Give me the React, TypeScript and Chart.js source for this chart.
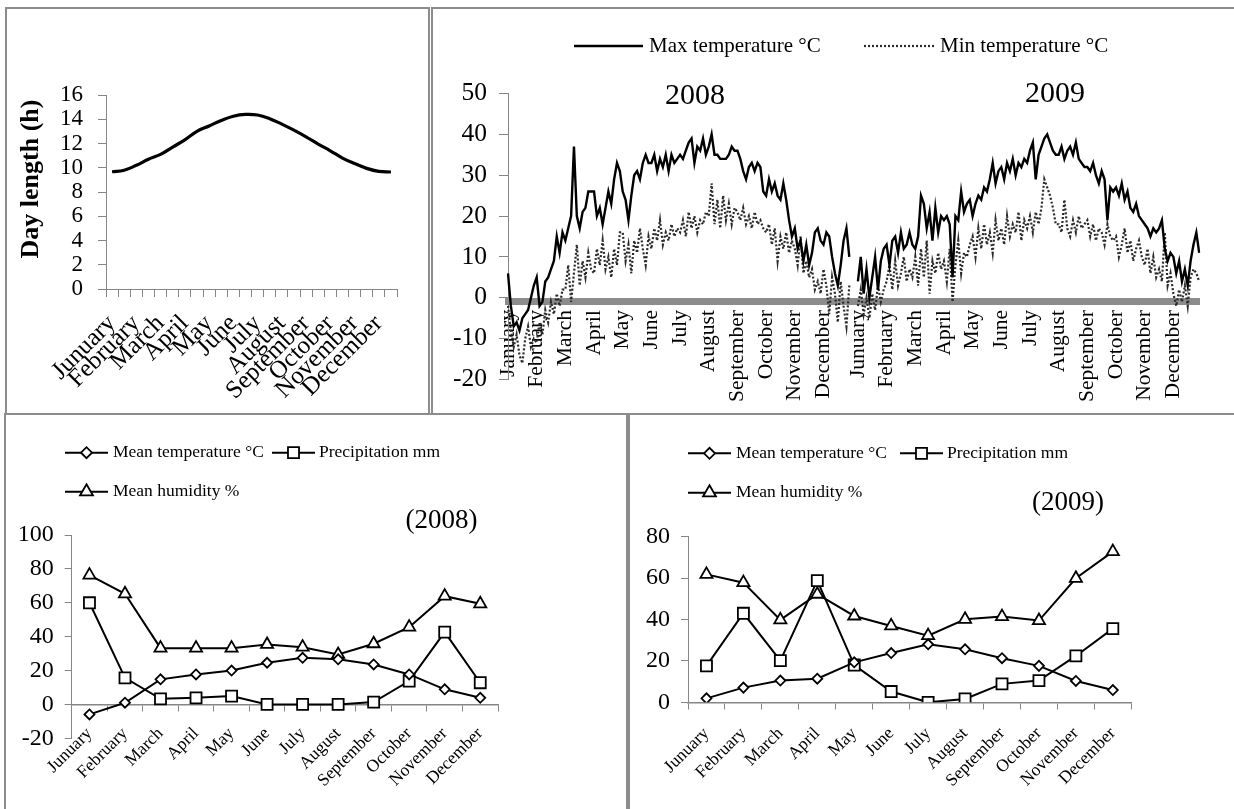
import React, { useEffect, useRef } from 'react';
import { Chart, registerables } from 'chart.js';

Chart.register(...registerables);

const SERIF = '"Liberation Serif", "Times New Roman", Times, serif';
const FRAME = '#8c8c8c';
const AXIS = '#868686';

// ---------------- data ----------------
const monthNames = ['Junuary', 'February', 'March', 'April', 'May', 'June', 'July', 'August', 'September', 'October', 'November', 'December'];

// day length, two readings per month (h)
const dayLengthH = [9.67, 9.8, 10.2, 10.7, 11.1, 11.7, 12.3, 13.0, 13.45, 13.9, 14.25, 14.4, 14.35, 14.05, 13.6, 13.1, 12.55, 11.95, 11.4, 10.8, 10.35, 9.95, 9.7, 9.65];

// daily temperatures, ten readings per month (deg C)
const samplesPerMonth = 10;
const yearGap = 2;
const maxTemp2008 = [
  6, -2, -7, -6, -8, -5, -4, -3, 0, 3,
  5, -2, -1, 4, 5, 7, 9, 15, 11, 16,
  14, 17, 20, 37, 20, 17, 21, 22, 26, 26,
  26, 20, 22, 18, 22, 26, 23, 29, 33, 31,
  26, 24, 19, 25, 30, 31, 29, 33, 35, 33,
  33, 35, 31, 34, 32, 35, 31, 35, 33, 34,
  35, 34, 36, 38, 39, 33, 37, 36, 39, 35,
  37, 40, 35, 35, 34, 34, 34, 35, 37, 36,
  36, 34, 31, 29, 32, 33, 31, 33, 32, 26,
  25, 29, 26, 28, 25, 24, 28, 24, 19, 15,
  17, 12, 14, 9, 13, 8, 11, 16, 17, 14,
  13, 16, 15, 10, 6, 3, 8, 14, 17, 10,
];
const minTemp2008 = [
  -2, -8, -12, -9, -14, -16, -10, -7, -12, -10,
  -11, -6, -9, -3, -6, -1, -4, 1, -2, 2,
  2, 8, -1, 6, 13, 3, 9, 5, 11, 7,
  6, 12, 8, 14, 7, 10, 5, 12, 8, 16,
  16, 9, 13, 6, 14, 11, 17, 12, 8, 15,
  12, 17, 14, 19, 13, 16, 14, 18, 15, 17,
  16, 19, 15, 21, 17, 20, 16, 19, 18, 21,
  20, 28, 18, 24, 17, 25, 19, 23, 18, 22,
  21, 19, 22, 18, 20, 17, 21, 18, 19, 17,
  16, 18, 13, 17, 9, 15, 12, 16, 11, 14,
  12, 8, 15, 6, 9, 5, 7, 2, 4, 1,
  7, 3, -4, 5, 1, -6, 4, -2, -7, 3,
];
const maxTemp2009 = [
  4, 10, 1, 7, 0, 5, 10, 2, 9, 12,
  13, 8, 14, 15, 11, 16, 12, 13, 16, 13,
  12, 15, 25, 23, 17, 21, 14, 22, 16, 20,
  19, 20, 18, 5, 20, 19, 26, 21, 23, 24,
  20, 23, 25, 24, 27, 26, 29, 33, 28, 31,
  32, 29, 33, 31, 34, 30, 33, 32, 34, 33,
  36, 38, 29, 35, 37, 39, 40, 38, 36, 35,
  35, 37, 34, 36, 37, 35, 38, 34, 33, 32,
  32, 31, 33, 30, 28, 31, 29, 19, 27, 26,
  27, 25, 28, 24, 26, 22, 21, 23, 20, 19,
  18, 17, 15, 17, 16, 17, 19, 12, 9, 11,
  10, 6, 9, 4, 7, 3, 9, 13, 16, 11,
];
const minTemp2009 = [
  -2, 2, -4, 0, -5, 1, -3, 3, -1, 2,
  4, 8, 2, 9, 3, 6, 10, 4, 7, 5,
  10, 3, 12, 5, 14, 1, 9, 6, 11, 7,
  9, 4, 12, -1, 8, 14, 6, 11, 10, 13,
  15, 10, 17, 12, 18, 13, 16, 11, 19, 14,
  17, 13, 20, 15, 18, 16, 21, 14, 19, 17,
  20, 16, 21, 18, 22, 29, 27, 25, 22, 18,
  18, 16, 24, 17, 15, 19, 16, 20, 17, 18,
  19, 15, 18, 14, 17, 16, 13, 18, 15, 14,
  15, 10, 13, 17, 11, 14, 9, 12, 14, 10,
  8, 12, 6, 10, 5, 7, 4, 16, 3, 6,
  1, -2, 2, -1, 3, -2, 5, 7, 6, 4,
];

// monthly means
const meanTemp2008 = [-5.9, 1, 14.8, 17.7, 20, 24.6, 27.5, 26.6, 23.6, 17.7, 8.9, 3.9];
const precip2008 = [60, 15.7, 3.3, 3.9, 4.9, 0, 0, 0, 1.4, 13.8, 42.7, 12.8];
const humidity2008 = [76.3, 65.3, 33.2, 33.2, 33.2, 35.4, 33.8, 29.5, 35.8, 45.6, 63.9, 59.4];
const meanTemp2009 = [1.9, 7.1, 10.5, 11.4, 19.3, 23.8, 28, 25.6, 21.3, 17.6, 10.3, 5.9];
const precip2009 = [17.6, 43, 20.1, 58.8, 18, 5.2, 0, 1.6, 8.9, 10.5, 22.4, 35.6];
const humidity2009 = [61.8, 57.8, 39.8, 52.2, 41.7, 36.9, 32.2, 40.1, 41.4, 39.5, 59.9, 72.8];

// ---------------- derived labels ----------------
const dayLengthLabels = monthNames.flatMap((m) => [m, '']);
function yearLabels(first: string): string[] {
  const out: string[] = [];
  monthNames.forEach((m, i) => {
    for (let k = 0; k < samplesPerMonth; k++) out.push(k === 0 ? (i === 0 ? first : m) : '');
  });
  return out;
}
const gapLabels: string[] = Array(yearGap).fill('');
const gapValues: (number | null)[] = Array(yearGap).fill(null);
const dailyLabels = [...yearLabels('January'), ...gapLabels, ...yearLabels('Junuary')];
const dailyMax = [...maxTemp2008, ...gapValues, ...maxTemp2009];
const dailyMin = [...minTemp2008, ...gapValues, ...minTemp2009];

// ---------------- overlay (legend keys + annotations) ----------------
type TextSpec = { text: string; x: number; y: number; size: number; bold?: boolean; rotate?: number };
type KeySpec = { x1: number; x2: number; y: number; text: string; tx: number; size: number; lineWidth: number; color: string; dash?: number[]; marker?: string; radius?: number };

function drawMarker(ctx: CanvasRenderingContext2D, style: string, x: number, y: number, r: number) {
  ctx.beginPath();
  if (style === 'rectRot') {
    ctx.moveTo(x - r, y); ctx.lineTo(x, y - r); ctx.lineTo(x + r, y); ctx.lineTo(x, y + r); ctx.closePath();
  } else if (style === 'rect') {
    const s = Math.SQRT1_2 * r;
    ctx.rect(x - s, y - s, 2 * s, 2 * s);
  } else {
    for (let i = 0; i < 3; i++) {
      const a = (i * 2 * Math.PI) / 3;
      const px = x + Math.sin(a) * r;
      const py = y - Math.cos(a) * r;
      if (i === 0) ctx.moveTo(px, py); else ctx.lineTo(px, py);
    }
    ctx.closePath();
  }
  ctx.fillStyle = '#fff';
  ctx.fill();
  ctx.lineWidth = 1.8;
  ctx.strokeStyle = '#000';
  ctx.stroke();
}

function overlayPlugin(texts: TextSpec[], keys: KeySpec[]) {
  return {
    id: 'overlay',
    afterDraw(chart: any) {
      const ctx: CanvasRenderingContext2D = chart.ctx;
      ctx.save();
      keys.forEach((k) => {
        ctx.beginPath();
        ctx.setLineDash(k.dash || []);
        ctx.lineWidth = k.lineWidth;
        ctx.strokeStyle = k.color;
        ctx.moveTo(k.x1, k.y);
        ctx.lineTo(k.x2, k.y);
        ctx.stroke();
        ctx.setLineDash([]);
        if (k.marker) drawMarker(ctx, k.marker, (k.x1 + k.x2) / 2, k.y, k.radius || 5);
        ctx.fillStyle = '#000';
        ctx.font = `${k.size}px ${SERIF}`;
        ctx.textAlign = 'left';
        ctx.textBaseline = 'middle';
        ctx.fillText(k.text, k.tx, k.y);
      });
      texts.forEach((t) => {
        ctx.save();
        ctx.translate(t.x, t.y);
        if (t.rotate) ctx.rotate(t.rotate);
        ctx.fillStyle = '#000';
        ctx.font = `${t.bold ? 'bold ' : ''}${t.size}px ${SERIF}`;
        ctx.textAlign = 'center';
        ctx.textBaseline = 'middle';
        ctx.fillText(t.text, 0, 0);
        ctx.restore();
      });
      ctx.restore();
    },
  };
}

// ---------------- chart configs ----------------
const font = (size: number) => ({ family: SERIF, size });

function dayLengthConfig(): any {
  return {
    type: 'line',
    data: {
      labels: dayLengthLabels,
      datasets: [{ label: 'Day length (h)', data: dayLengthH, borderColor: '#000', borderWidth: 3.2, pointRadius: 0, tension: 0.4, fill: false }],
    },
    options: {
      responsive: false,
      animation: false,
      layout: { padding: { left: 0, right: 31, top: 86, bottom: 0 } },
      plugins: { legend: { display: false }, tooltip: { enabled: false } },
      scales: {
        x: {
          offset: true,
          grid: { offset: true, drawOnChartArea: false, tickLength: 8, color: AXIS },
          border: { color: AXIS },
          ticks: { autoSkip: false, minRotation: 45, maxRotation: 45, font: font(25), color: '#000', padding: 12 },
          afterFit: (s: any) => { s.height = 124; },
        },
        y: {
          min: 0,
          max: 16,
          ticks: { stepSize: 2, autoSkip: false, font: font(23), color: '#000', padding: 15 },
          grid: { drawOnChartArea: false, tickLength: 8, color: AXIS },
          border: { color: AXIS },
          afterFit: (s: any) => { s.width = 99; },
        },
      },
    },
    plugins: [overlayPlugin([{ text: 'Day length (h)', x: 24, y: 170, size: 26, bold: true, rotate: -Math.PI / 2 }], [])],
  };
}

function dailyConfig(): any {
  return {
    type: 'line',
    data: {
      labels: dailyLabels,
      datasets: [
        { label: 'Max temperature °C', data: dailyMax, borderColor: '#000', borderWidth: 2.4, pointRadius: 0, tension: 0, spanGaps: false },
        { label: 'Min temperature °C', data: dailyMin, borderColor: '#2a2a2a', borderWidth: 2.2, borderDash: [2, 2], pointRadius: 0, tension: 0, spanGaps: false },
      ],
    },
    options: {
      responsive: false,
      animation: false,
      layout: { padding: { left: 0, right: 22, top: 84.5, bottom: 33.5 } },
      plugins: { legend: { display: false }, tooltip: { enabled: false } },
      scales: {
        x: {
          offset: false,
          position: { y: -0.8 },
          grid: { display: true, drawOnChartArea: false, drawTicks: false },
          border: { color: FRAME, width: 7 },
          ticks: { autoSkip: false, minRotation: 90, maxRotation: 90, font: font(21.5), color: '#000', padding: 9 },
          afterFit: (s: any) => { s.height = 0; },
        },
        y: {
          min: -20,
          max: 50,
          ticks: { stepSize: 10, autoSkip: false, font: font(25.5), color: '#000', padding: 12 },
          grid: { drawOnChartArea: false, tickLength: 9, color: AXIS },
          border: { color: AXIS },
          afterFit: (s: any) => { s.width = 75; },
        },
      },
    },
    plugins: [
      overlayPlugin(
        [
          { text: '2008', x: 262, y: 87, size: 30 },
          { text: '2009', x: 622, y: 85, size: 30 },
        ],
        [
          { x1: 141, x2: 210, y: 37, text: 'Max temperature °C', tx: 216, size: 21, lineWidth: 2.4, color: '#000' },
          { x1: 431, x2: 501, y: 37, text: 'Min temperature °C', tx: 507, size: 21, lineWidth: 2.2, color: '#2a2a2a', dash: [2, 2] },
        ],
      ),
    ],
  };
}

const seriesStyle = (pointStyle: string, radius: number) => ({
  borderColor: '#000',
  borderWidth: 2,
  pointStyle,
  pointRadius: radius,
  pointBackgroundColor: '#fff',
  pointBorderColor: '#000',
  pointBorderWidth: 1.8,
  tension: 0,
  fill: false,
});

type MonthlyOpts = {
  temp: number[]; precip: number[]; hum: number[];
  yMin: number; yMax: number; yWidth: number;
  pad: { left: number; right: number; top: number; bottom: number };
  labelPad: number; tag: string; tagX: number; tagY: number; legendX: number; legend2X: number; row1: number; row2: number;
};

function monthlyConfig(o: MonthlyOpts): any {
  const lx1 = o.legendX, lx2 = o.legendX + 43;
  const mx1 = o.legend2X, mx2 = o.legend2X + 43;
  return {
    type: 'line',
    data: {
      labels: monthNames,
      datasets: [
        { label: 'Mean temperature °C', data: o.temp, ...seriesStyle('rectRot', 5) },
        { label: 'Precipitation mm', data: o.precip, ...seriesStyle('rect', 7.8) },
        { label: 'Mean humidity %', data: o.hum, ...seriesStyle('triangle', 7) },
      ],
    },
    options: {
      responsive: false,
      animation: false,
      layout: { padding: o.pad },
      plugins: { legend: { display: false }, tooltip: { enabled: false } },
      scales: {
        x: {
          offset: true,
          position: { y: 0 },
          grid: { offset: true, drawOnChartArea: false, tickLength: 6, color: AXIS },
          border: { color: AXIS, width: 1.5 },
          ticks: { autoSkip: false, minRotation: 45, maxRotation: 45, font: font(17.5), color: '#000', padding: o.labelPad },
          afterFit: (s: any) => { s.height = 0; },
        },
        y: {
          min: o.yMin,
          max: o.yMax,
          ticks: { stepSize: 20, autoSkip: false, font: font(24), color: '#000', padding: 11 },
          grid: { drawOnChartArea: false, tickLength: 7, color: AXIS },
          border: { color: AXIS },
          afterFit: (s: any) => { s.width = o.yWidth; },
        },
      },
    },
    plugins: [
      overlayPlugin(
        [{ text: o.tag, x: o.tagX, y: o.tagY, size: 27 }],
        [
          { x1: lx1, x2: lx2, y: o.row1, text: 'Mean temperature °C', tx: lx2 + 5, size: 17.5, lineWidth: 2, color: '#000', marker: 'rectRot', radius: 5.5 },
          { x1: mx1, x2: mx2, y: o.row1, text: 'Precipitation mm', tx: mx2 + 4, size: 17.5, lineWidth: 2, color: '#000', marker: 'rect', radius: 7.8 },
          { x1: lx1, x2: lx2, y: o.row2, text: 'Mean humidity %', tx: lx2 + 5, size: 17.5, lineWidth: 2, color: '#000', marker: 'triangle', radius: 7.5 },
        ],
      ),
    ],
  };
}

// ---------------- components ----------------
function ChartCanvas(props: { left: number; top: number; width: number; height: number; make: () => any }) {
  const ref = useRef<HTMLCanvasElement>(null);
  useEffect(() => {
    const chart = new Chart(ref.current as HTMLCanvasElement, props.make());
    return () => chart.destroy();
  }, []);
  const { left, top, width, height } = props;
  return <canvas ref={ref} width={width} height={height} style={{ position: 'absolute', left, top, width, height }} />;
}

const line = `2px solid ${FRAME}`;

export default function App() {
  return (
    <div style={{ position: 'absolute', left: 0, top: 0, width: 1234, height: 809, background: '#fff', overflow: 'hidden' }}>
      <div style={{ position: 'absolute', left: 5, top: 7, width: 421, height: 404, borderLeft: line, borderTop: line, borderRight: line }} />
      <div style={{ position: 'absolute', left: 431, top: 7, width: 803, height: 404, borderLeft: line, borderTop: line }} />
      <div style={{ position: 'absolute', left: 4, top: 413, width: 620, height: 396, borderLeft: line, borderTop: line, borderRight: line }} />
      <div style={{ position: 'absolute', left: 628, top: 413, width: 606, height: 396, borderLeft: line, borderTop: line }} />

      <ChartCanvas left={7} top={9} width={421} height={404} make={dayLengthConfig} />
      <ChartCanvas left={433} top={9} width={801} height={404} make={dailyConfig} />
      <ChartCanvas
        left={6}
        top={415}
        width={620}
        height={394}
        make={() =>
          monthlyConfig({
            temp: meanTemp2008, precip: precip2008, hum: humidity2008,
            yMin: -20, yMax: 100, yWidth: 65.7,
            pad: { left: 0, right: 128, top: 120, bottom: 70.7 },
            labelPad: 13, tag: '(2008)', tagX: 435.5, tagY: 106,
            legendX: 59, legend2X: 266, row1: 37.7, row2: 76.7,
          })
        }
      />
      <ChartCanvas
        left={631}
        top={415}
        width={603}
        height={394}
        make={() =>
          monthlyConfig({
            temp: meanTemp2009, precip: precip2009, hum: humidity2009,
            yMin: 0, yMax: 80, yWidth: 57,
            pad: { left: 0, right: 102.7, top: 121.7, bottom: 106.7 },
            labelPad: 15, tag: '(2009)', tagX: 437, tagY: 87.5,
            legendX: 57, legend2X: 269, row1: 38.3, row2: 77.7,
          })
        }
      />
    </div>
  );
}
